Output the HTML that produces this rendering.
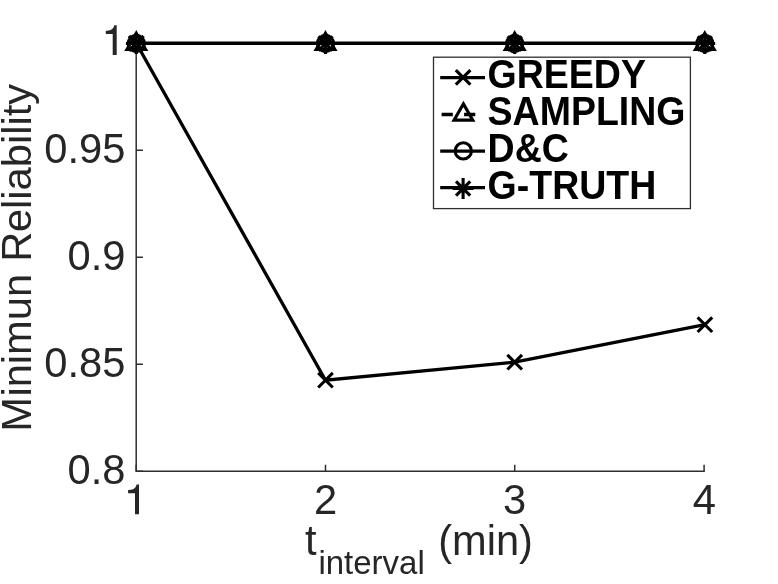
<!DOCTYPE html>
<html>
<head>
<meta charset="utf-8">
<title>Minimum Reliability vs t_interval</title>
<style>
html,body{margin:0;padding:0;background:#fff;}
body{width:778px;height:584px;overflow:hidden;}
svg{display:block;filter:grayscale(1);}
text{font-family:"Liberation Sans",sans-serif;fill:#262626;}
.tick{font-size:41.7px;}
.sub{font-size:33px;}
.leg text{font-size:37.5px;font-weight:bold;fill:#000;}
</style>
</head>
<body>
<svg width="778" height="584" viewBox="0 0 778 584">
<rect x="0" y="0" width="778" height="584" fill="#fff"/>

<!-- axes -->
<g stroke="#2e2e2e" stroke-width="1.5" fill="none" stroke-linecap="butt">
  <path d="M136.2 43.2 V471.2 H704.8"/>
  <!-- y ticks -->
  <path d="M136.2 43.2 h6.7 M136.2 150.2 h6.7 M136.2 257.2 h6.7 M136.2 364.2 h6.7 M136.2 471.2 h6.7"/>
  <!-- x ticks -->
  <path d="M136.2 471.2 v-6.5 M325.5 471.2 v-6.5 M514.7 471.2 v-6.5 M704.1 471.2 v-6.5"/>
</g>

<!-- y tick labels -->
<g class="tick" text-anchor="end">
  <path d="M0,-29.7 V0 H-4 V-20.9 H-10.9 V-24.1 C-7.2,-24.1 -3.2,-25.1 -2.4,-29.7 Z" transform="translate(116.7,54.9)" fill="#262626"/>
  <text transform="translate(125.4,162.6) scale(1,1.04)">0.95</text>
  <text transform="translate(125.4,269.6) scale(1,1.04)">0.9</text>
  <text transform="translate(125.4,376.6) scale(1,1.04)">0.85</text>
  <text transform="translate(125.4,483.6) scale(1,1.04)">0.8</text>
</g>
<!-- x tick labels -->
<g class="tick" text-anchor="middle">
  <path d="M0,-29.7 V0 H-4 V-20.9 H-10.9 V-24.1 C-7.2,-24.1 -3.2,-25.1 -2.4,-29.7 Z" transform="translate(139.0,514.2)" fill="#262626"/>
  <text transform="translate(325.5,514.4) scale(1,1.04)">2</text>
  <text transform="translate(514.7,514.4) scale(1,1.04)">3</text>
  <text transform="translate(704.3,514.4) scale(1,1.04)">4</text>
</g>

<!-- axis labels -->
<text class="tick" transform="translate(305,554.6)">t</text>
<text class="sub" transform="translate(318.4,574.4)">interval</text>
<text class="tick" style="font-size:41.6px" transform="translate(438.2,554.6)">(min)</text>
<g class="tick" transform="translate(31.3,431.8) rotate(-90)">
  <text transform="scale(1,1.035)">M</text>
  <text transform="translate(35.2,0) scale(1,0.975)">inimun</text>
  <text transform="translate(170,0) scale(1,1.035)">R</text>
  <text transform="translate(199.7,0) scale(1,0.975)">eliability</text>
</g>

<!-- data lines -->
<g stroke="#000" fill="none" stroke-linejoin="miter">
  <!-- GREEDY -->
  <polyline points="136.3,43.3 325.5,380.2 514.7,362.2 704.9,324.7" stroke-width="3.3"/>
  <!-- flat lines (SAMPLING, D&C, G-TRUTH) -->
  <path d="M136.3 43.3 H704.9" stroke-width="3.5"/>
</g>

<defs>
  <g id="mx"><path d="M-7.3 -7.3 L7.3 7.3 M-7.3 7.3 L7.3 -7.3" stroke="#000" stroke-width="3.1" fill="none"/></g>
  <g id="mtri"><path d="M0 -10.83 L9.38 5.42 L-9.38 5.42 Z" stroke="#000" stroke-width="3.1" fill="none" stroke-linejoin="miter"/></g>
  <g id="mcirc"><circle cx="0" cy="0" r="8.1" stroke="#000" stroke-width="3.1" fill="none"/></g>
  <g id="mstar"><path d="M-10.4 0 H10.4 M0 -10.4 V10.4 M-7.1 -7.1 L7.1 7.1 M-7.1 7.1 L7.1 -7.1" stroke="#000" stroke-width="3.1" fill="none"/></g>
  <g id="mtop"><use href="#mtri" y="0.7"/><use href="#mcirc" y="0.2"/><use href="#mstar" y="0.2"/></g>
</defs>

<!-- markers on plot -->
<g>
  <use href="#mx" x="136.3" y="43.3"/>
  <use href="#mx" x="325.5" y="380.2"/>
  <use href="#mx" x="514.7" y="362.2"/>
  <use href="#mx" x="704.9" y="324.7"/>
</g>
<g>
  <use href="#mtop" x="136.3" y="43.3"/>
  <use href="#mtop" x="325.5" y="43.3"/>
  <use href="#mtop" x="514.7" y="43.3"/>
  <use href="#mtop" x="704.8" y="43.3"/>
</g>

<!-- legend -->
<rect x="433.5" y="57.2" width="256.9" height="151.4" fill="#fff" stroke="#2e2e2e" stroke-width="1.3"/>
<g stroke="#000" stroke-width="3.3" fill="none">
  <path d="M440.2 77.65 H485"/>
  <path d="M441.6 114.5 H485" stroke-dasharray="11.2 11.3"/>
  <path d="M440.2 151.2 H485"/>
  <path d="M440.2 187.7 H485"/>
</g>
<use href="#mx" x="463.1" y="77.4"/>
<use href="#mtri" x="463.4" y="114.7"/>
<use href="#mcirc" x="463.3" y="150.9"/>
<use href="#mstar" x="463.1" y="188.5"/>
<g class="leg">
  <text transform="translate(487.6,88.3) scale(1,1.08)">GREEDY</text>
  <text transform="translate(487.6,125.1) scale(1,1.08)">SAMPLING</text>
  <text transform="translate(487.6,162.1) scale(1,1.08)">D&amp;C</text>
  <text transform="translate(487.6,199.1) scale(1,1.08)">G-TRUTH</text>
</g>
</svg>
</body>
</html>
